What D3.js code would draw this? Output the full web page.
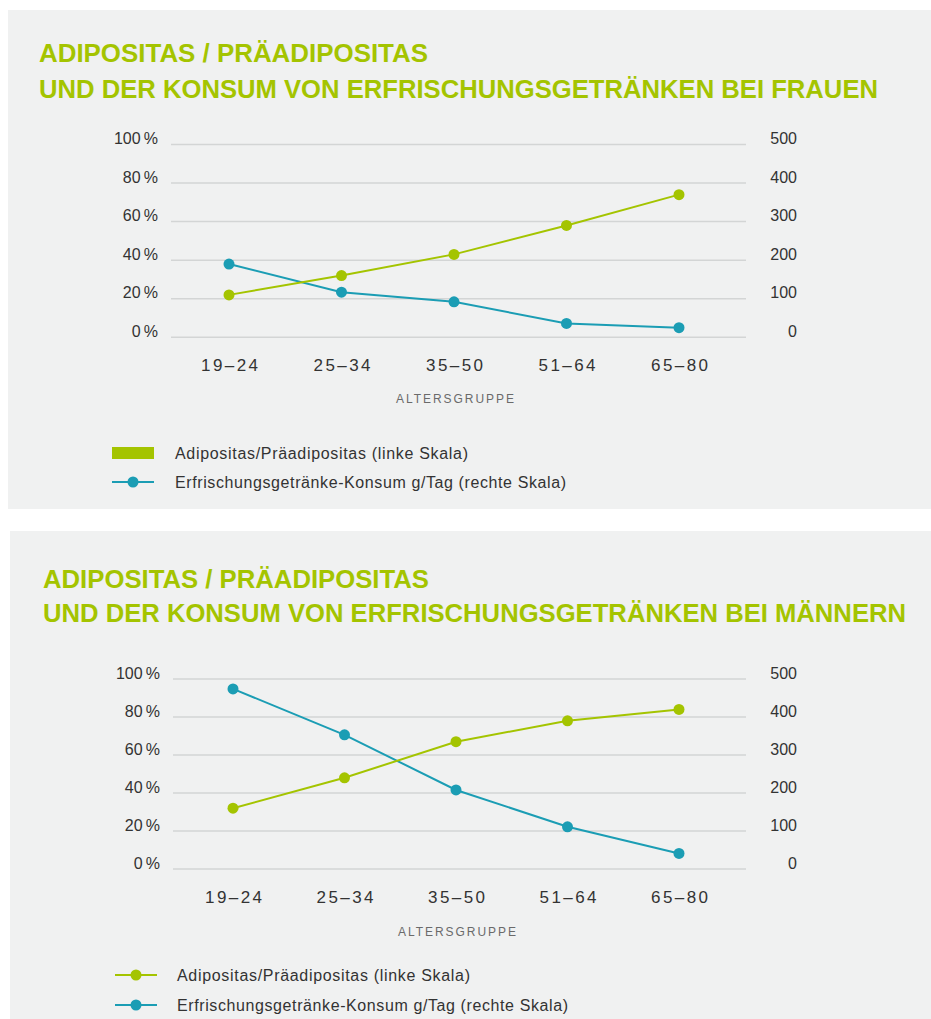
<!DOCTYPE html>
<html>
<head>
<meta charset="utf-8">
<script src="https://cdn.jsdelivr.net/npm/d3@7"></script>
<style>
  html, body { margin: 0; padding: 0; background: #ffffff; }
  svg { display: block; }
  text { font-family: "Liberation Sans", Arial, sans-serif; }
</style>
</head>
<body>
<svg id="chart" width="931" height="1019"></svg>
<script>
// ---- data ----
const ageGroups = ["19–24", "25–34", "35–50", "51–64", "65–80"];
const womenObesity = [22, 32, 43, 58, 74];      // % (linke Skala)
const womenDrinks  = [190, 117, 92, 36, 25];    // g/Tag (rechte Skala)
const menObesity   = [32, 48, 67, 78, 84];
const menDrinks    = [474, 353, 208, 111, 41];
const leftTicks  = [0, 20, 40, 60, 80, 100];
const rightTicks = [0, 100, 200, 300, 400, 500];
const titleLine1 = "ADIPOSITAS / PRÄADIPOSITAS";
const titleWomen = "UND DER KONSUM VON ERFRISCHUNGSGETRÄNKEN BEI FRAUEN";
const titleMen   = "UND DER KONSUM VON ERFRISCHUNGSGETRÄNKEN BEI MÄNNERN";
const xAxisTitle = "ALTERSGRUPPE";
const legendObesity = "Adipositas/Präadipositas (linke Skala)";
const legendDrinks  = "Erfrischungsgetränke-Konsum g/Tag (rechte Skala)";

const GREEN = "#a4c400";
const BLUE = "#1b9db4";
const BG = "#f0f1f1";
const GRID = "#d3d5d5";
const TXT = "#333333";

const svg = d3.select("#chart");

function drawPanel(cfg) {
  const g = svg.append("g");
  g.append("rect").attr("x", cfg.px).attr("y", cfg.py).attr("width", cfg.pw).attr("height", cfg.ph).attr("fill", BG);

  // titles
  g.append("text").attr("x", cfg.tx).attr("y", cfg.t1y)
    .attr("font-size", 25).attr("font-weight", "bold").attr("fill", GREEN)
    .attr("textLength", cfg.t1w).attr("lengthAdjust", "spacingAndGlyphs")
    .text(titleLine1);
  g.append("text").attr("x", cfg.tx).attr("y", cfg.t2y)
    .attr("font-size", 25).attr("font-weight", "bold").attr("fill", GREEN)
    .attr("textLength", cfg.t2w).attr("lengthAdjust", "spacingAndGlyphs")
    .text(cfg.title2);

  const x = d3.scalePoint().domain(ageGroups).range([cfg.x0, cfg.x1]);
  const yL = d3.scaleLinear().domain([0, 100]).range([cfg.yBottom, cfg.yTop]);
  const yR = d3.scaleLinear().domain([0, 500]).range([cfg.yBottom, cfg.yTop]);

  // grid
  g.append("g").selectAll("line").data(leftTicks).join("line")
    .attr("x1", cfg.gx0).attr("x2", cfg.gx1)
    .attr("y1", d => yL(d)).attr("y2", d => yL(d))
    .attr("stroke", GRID).attr("stroke-width", 1.5);

  // left axis
  const la = g.append("g").attr("transform", `translate(${cfg.lax},0)`)
    .call(d3.axisLeft(yL).tickValues(leftTicks).tickSize(0).tickPadding(0).tickFormat(d => d + "\u2009%"));
  la.select(".domain").remove();
  la.selectAll("text").attr("font-size", 16).attr("fill", TXT).attr("font-family", "Liberation Sans, Arial, sans-serif").attr("dy", "-0.05em");

  // right axis
  const ra = g.append("g").attr("transform", `translate(${cfg.rax},0)`)
    .call(d3.axisRight(yR).tickValues(rightTicks).tickSize(0).tickPadding(0));
  ra.select(".domain").remove();
  ra.selectAll("text").attr("font-size", 16).attr("fill", TXT).attr("text-anchor", "end")
    .attr("font-family", "Liberation Sans, Arial, sans-serif").attr("dy", "-0.05em");

  // bottom axis
  const ba = g.append("g").attr("transform", `translate(0,${cfg.xly})`)
    .call(d3.axisBottom(x).tickSize(0).tickPadding(0));
  ba.select(".domain").remove();
  ba.selectAll("text").attr("font-size", 17).attr("fill", TXT).attr("dy", "0.35em")
    .attr("font-family", "Liberation Sans, Arial, sans-serif")
    .attr("textLength", 57).attr("lengthAdjust", "spacing");

  g.append("text").attr("x", cfg.axTitleX).attr("y", cfg.axTitleY).attr("dy", "0.35em")
    .attr("text-anchor", "middle").attr("font-size", 12).attr("fill", "#6a6a6a")
    .attr("textLength", 118).attr("lengthAdjust", "spacing")
    .text(xAxisTitle);

  // lines
  const lineL = d3.line().x((d, i) => x(ageGroups[i])).y(d => yL(d));
  const lineR = d3.line().x((d, i) => x(ageGroups[i])).y(d => yR(d));

  g.append("path").datum(cfg.drinks).attr("d", lineR).attr("fill", "none").attr("stroke", BLUE).attr("stroke-width", 2);
  g.append("path").datum(cfg.obesity).attr("d", lineL).attr("fill", "none").attr("stroke", GREEN).attr("stroke-width", 2);

  g.append("g").selectAll("circle").data(cfg.drinks).join("circle")
    .attr("cx", (d, i) => x(ageGroups[i])).attr("cy", d => yR(d)).attr("r", 5.5).attr("fill", BLUE);
  g.append("g").selectAll("circle").data(cfg.obesity).join("circle")
    .attr("cx", (d, i) => x(ageGroups[i])).attr("cy", d => yL(d)).attr("r", 5.5).attr("fill", GREEN);

  // legend
  const lg = g.append("g");
  if (cfg.obesityAsRect) {
    lg.append("rect").attr("x", cfg.legX).attr("y", cfg.leg1y - 6).attr("width", 42).attr("height", 12).attr("fill", GREEN);
  } else {
    lg.append("line").attr("x1", cfg.legX).attr("x2", cfg.legX + 42).attr("y1", cfg.leg1y).attr("y2", cfg.leg1y)
      .attr("stroke", GREEN).attr("stroke-width", 2);
    lg.append("circle").attr("cx", cfg.legX + 21).attr("cy", cfg.leg1y).attr("r", 5.5).attr("fill", GREEN);
  }
  lg.append("line").attr("x1", cfg.legX).attr("x2", cfg.legX + 42).attr("y1", cfg.leg2y).attr("y2", cfg.leg2y)
    .attr("stroke", BLUE).attr("stroke-width", 2);
  lg.append("circle").attr("cx", cfg.legX + 21).attr("cy", cfg.leg2y).attr("r", 5.5).attr("fill", BLUE);

  lg.append("text").attr("x", cfg.legTx).attr("y", cfg.leg1y).attr("dy", "0.35em")
    .attr("font-size", 16).attr("fill", TXT).attr("textLength", 293).attr("lengthAdjust", "spacing")
    .text(legendObesity);
  lg.append("text").attr("x", cfg.legTx).attr("y", cfg.leg2y).attr("dy", "0.35em")
    .attr("font-size", 16).attr("fill", TXT).attr("textLength", 391).attr("lengthAdjust", "spacing")
    .text(legendDrinks);
}

drawPanel({
  px: 8, py: 10, pw: 923, ph: 499,
  tx: 39, t1y: 62, t2y: 98, t1w: 389, t2w: 839, title2: titleWomen,
  x0: 229, x1: 679, yBottom: 337.3, yTop: 144.5,
  gx0: 171, gx1: 746, lax: 158, rax: 797,
  xly: 365, axTitleX: 455, axTitleY: 399,
  obesity: womenObesity, drinks: womenDrinks, obesityAsRect: true,
  legX: 112, legTx: 175, leg1y: 453, leg2y: 482
});

drawPanel({
  px: 10, py: 531, pw: 921, ph: 488,
  tx: 43, t1y: 588, t2y: 622, t1w: 386, t2w: 863, title2: titleMen,
  x0: 233, x1: 679, yBottom: 869, yTop: 679,
  gx0: 173, gx1: 746, lax: 160, rax: 797,
  xly: 897, axTitleX: 457, axTitleY: 932,
  obesity: menObesity, drinks: menDrinks, obesityAsRect: false,
  legX: 115, legTx: 177, leg1y: 975, leg2y: 1005
});
</script>
</body>
</html>
